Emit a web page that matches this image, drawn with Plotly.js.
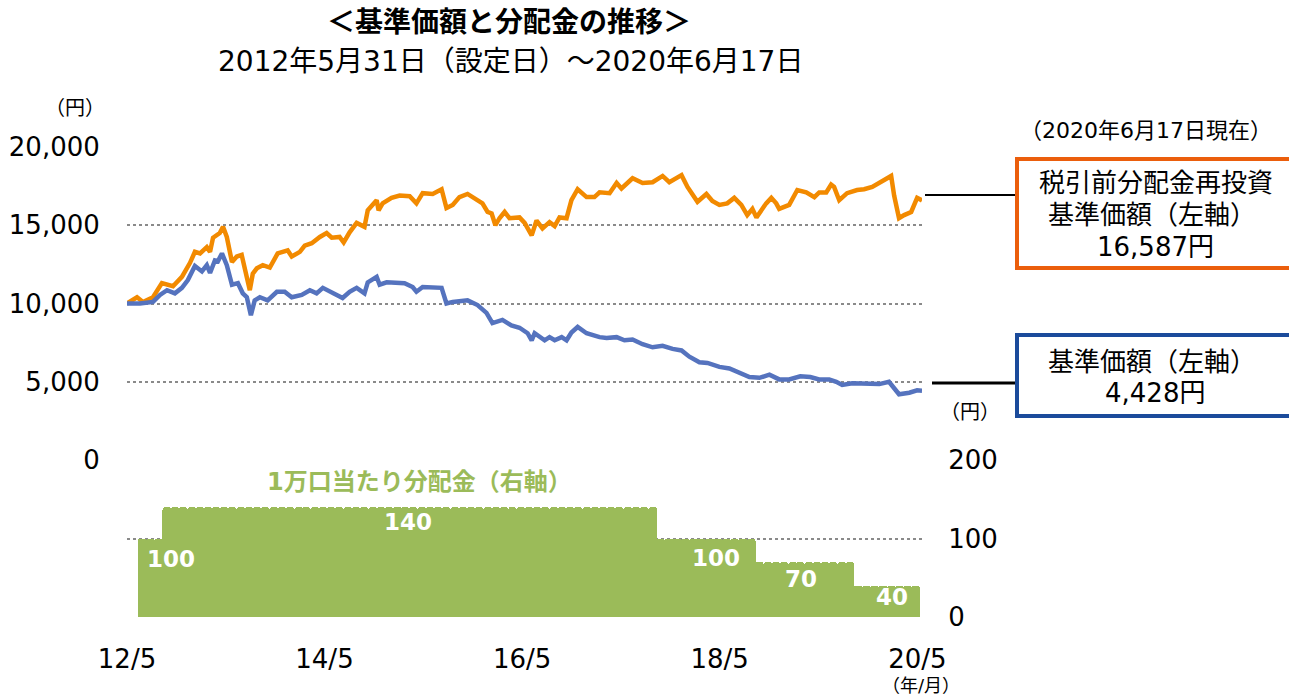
<!DOCTYPE html>
<html><head><meta charset="utf-8">
<script src="https://cdn.plot.ly/plotly-3.0.1.min.js"></script>
<style>html,body{margin:0;padding:0;background:#fff;}#chart{width:1289px;height:699px;}</style>
</head><body><div id="chart"></div>
<script>
// ---- data ----
const reinvDates = ["2012-05-31","2012-07-07","2012-07-29","2012-09-04","2012-10-07","2012-11-17","2012-12-20",
"2013-01-19","2013-02-06","2013-02-25","2013-03-22","2013-04-03","2013-04-14","2013-05-09","2013-05-21","2013-06-04",
"2013-06-23","2013-07-11","2013-07-29","2013-08-10","2013-08-28","2013-09-08","2013-09-23","2013-10-15","2013-11-10",
"2013-12-09","2014-01-15","2014-01-30","2014-03-01","2014-03-19","2014-04-14","2014-05-14","2014-06-08","2014-06-27",
"2014-07-26","2014-08-10","2014-09-01","2014-09-27","2014-10-26","2014-11-07","2014-12-10","2014-12-17","2015-01-01",
"2015-02-03","2015-03-05","2015-04-11","2015-05-06","2015-05-29","2015-07-05","2015-08-07","2015-08-25","2015-09-17",
"2015-10-12","2015-11-11","2015-12-18","2016-01-05","2016-01-24","2016-02-08","2016-02-22","2016-03-08","2016-03-27",
"2016-04-14","2016-05-21","2016-06-09","2016-07-05","2016-07-23","2016-08-14","2016-09-09","2016-09-28","2016-10-16",
"2016-11-11","2016-11-29","2016-12-22","2017-01-24","2017-02-22","2017-03-13","2017-04-19","2017-05-15","2017-06-02",
"2017-07-13","2017-08-19","2017-09-25","2017-11-01","2017-11-26","2018-01-10","2018-02-01","2018-03-10","2018-04-12",
"2018-05-04","2018-05-30","2018-06-28","2018-07-24","2018-08-19","2018-09-10","2018-09-29","2018-10-14","2018-11-19",
"2018-12-08","2018-12-26","2019-01-06","2019-02-12","2019-03-14","2019-04-16","2019-05-16","2019-06-03","2019-06-29",
"2019-07-17","2019-07-28","2019-08-16","2019-09-14","2019-10-21","2019-11-16","2019-12-16","2020-01-11","2020-02-05",
"2020-02-24","2020-03-06","2020-03-24","2020-04-12","2020-05-08","2020-05-30","2020-06-17"];
const reinvValues = [10000,10400,10100,10400,11300,11100,11700,
12600,13300,13200,13600,13300,14200,14500,14900,14250,
12650,13000,13100,12300,10850,11900,12250,12450,12300,
13200,13400,13000,13300,13700,13850,14250,14500,14200,
14250,13900,14550,15150,14900,15950,16600,15950,16400,
16750,16900,16850,16400,17050,17000,17300,16100,16300,
16800,17000,16600,16400,15850,15750,15000,15450,15850,
15450,15500,15150,14350,15300,14800,15200,14950,15500,
15450,16600,17300,16800,16800,17100,17050,17700,17350,
18000,17700,17750,18150,17750,18200,17450,16500,17000,
16550,16300,16400,16750,16300,15650,16050,15500,16400,
16750,16400,16050,16300,17250,17100,16800,17100,17100,
17600,17450,16600,17050,17250,17300,17450,17700,17900,
18150,16900,15450,15650,15850,16750,16587];

const navDates = ["2012-05-31","2012-07-18","2012-09-04","2012-09-30","2012-10-26","2012-11-24","2012-12-20",
"2013-01-11","2013-02-06","2013-03-04","2013-03-22","2013-04-03","2013-04-21","2013-05-02","2013-05-17","2013-06-04",
"2013-06-23","2013-07-15","2013-08-02","2013-08-17","2013-09-01","2013-09-15","2013-10-04","2013-11-02","2013-12-06",
"2014-01-04","2014-01-30","2014-03-08","2014-04-07","2014-05-02","2014-05-25","2014-06-30","2014-08-06","2014-09-01",
"2014-09-27","2014-10-26","2014-11-07","2014-12-10","2014-12-21","2015-01-16","2015-02-22","2015-03-23","2015-04-22",
"2015-05-06","2015-05-29","2015-07-05","2015-08-07","2015-08-25","2015-09-17","2015-11-11","2015-12-18","2016-01-20",
"2016-02-11","2016-03-19","2016-04-21","2016-05-21","2016-06-20","2016-07-05","2016-07-16","2016-08-22","2016-09-09",
"2016-09-28","2016-10-24","2016-11-11","2016-11-29","2016-12-22","2017-01-24","2017-03-13","2017-04-08","2017-05-15",
"2017-06-13","2017-07-13","2017-08-19","2017-09-25","2017-11-01","2017-12-08","2018-01-10","2018-02-08","2018-03-17",
"2018-04-16","2018-05-30","2018-07-06","2018-08-12","2018-09-18","2018-10-25","2018-12-01","2019-01-06","2019-02-12",
"2019-03-25","2019-05-01","2019-06-03","2019-07-10","2019-08-05","2019-08-27","2019-10-03","2019-11-24","2020-01-11",
"2020-02-16","2020-03-06","2020-03-24","2020-05-01","2020-05-30","2020-06-17"];
const navValues = [10000,10000,10100,10550,10850,10650,11000,
11500,12400,12050,12450,11950,12750,12700,13200,12450,
11200,11300,10650,10400,9250,10200,10400,10200,10750,
10750,10400,10550,10850,10650,11000,10650,10350,10750,
11000,10650,11350,11700,11200,11350,11350,11300,11050,
10750,11050,11000,11000,10000,10100,10200,9900,9400,
8750,8950,8600,8450,8100,7650,8100,7650,7850,
7650,7850,7650,8150,8500,8100,7850,7800,7850,
7650,7700,7400,7200,7300,7100,7000,6600,6250,
6200,5950,5850,5600,5300,5250,5450,5150,5150,
5350,5300,5150,5150,5000,4800,4900,4850,4850,
5000,4600,4200,4300,4450,4428];

const distMonths = [
"2012-07-25","2012-08-25","2012-09-25","2012-10-25","2012-11-25","2012-12-25",
"2013-01-25","2013-02-25","2013-03-25","2013-04-25","2013-05-25","2013-06-25","2013-07-25","2013-08-25","2013-09-25","2013-10-25","2013-11-25","2013-12-25",
"2014-01-25","2014-02-25","2014-03-25","2014-04-25","2014-05-25","2014-06-25","2014-07-25","2014-08-25","2014-09-25","2014-10-25","2014-11-25","2014-12-25",
"2015-01-25","2015-02-25","2015-03-25","2015-04-25","2015-05-25","2015-06-25","2015-07-25","2015-08-25","2015-09-25","2015-10-25","2015-11-25","2015-12-25",
"2016-01-25","2016-02-25","2016-03-25","2016-04-25","2016-05-25","2016-06-25","2016-07-25","2016-08-25","2016-09-25","2016-10-25","2016-11-25","2016-12-25",
"2017-01-25","2017-02-25","2017-03-25","2017-04-25","2017-05-25","2017-06-25","2017-07-25","2017-08-25","2017-09-25","2017-10-25","2017-11-25","2017-12-25",
"2018-01-25","2018-02-25","2018-03-25","2018-04-25","2018-05-25","2018-06-25","2018-07-25","2018-08-25","2018-09-25","2018-10-25","2018-11-25","2018-12-25",
"2019-01-25","2019-02-25","2019-03-25","2019-04-25","2019-05-25","2019-06-25","2019-07-25","2019-08-25","2019-09-25","2019-10-25","2019-11-25","2019-12-25",
"2020-01-25","2020-02-25","2020-03-25","2020-04-25","2020-05-25"];
const distValues = [
100,100,100,140,140,140,
140,140,140,140,140,140,140,140,140,140,140,140,
140,140,140,140,140,140,140,140,140,140,140,140,
140,140,140,140,140,140,140,140,140,140,140,140,
140,140,140,140,140,140,140,140,140,140,140,140,
140,140,140,140,140,140,140,140,140,100,100,100,
100,100,100,100,100,100,100,100,100,70,70,70,
70,70,70,70,70,70,70,70,70,40,40,40,
40,40,40,40,40];

const xTickVals = ["2012-05-31","2014-05-31","2016-05-31","2018-05-31","2020-05-31"];
const xTickText = ["12/5","14/5","16/5","18/5","20/5"];
const yLeftTicks = [0,5000,10000,15000,20000];
const yRightTicks = [0,100,200];
const distLabels = ["100","140","100","70","40"];

// ---- layout helpers (pixel -> paper) ----
const L=127, R=922, T=147, B=617;
const px = x => (x-L)/(R-L);
const py = y => (B-y)/(B-T);
const FONT = "'DejaVu Sans', 'Noto Sans CJK JP', sans-serif";
const fmt = v => v.toLocaleString('en-US');

function txt(text, x, y, size, opts) {
  opts = opts || {};
  return {text:text, xref:'paper', yref:'paper', x:px(x), y:py(y), xanchor:opts.xanchor||'center', yanchor:'middle',
    showarrow:false, font:{family:FONT, size:size, color:opts.color||'#000'}};
}

const traces = [
  {type:'bar', x:distMonths, y:distValues, xaxis:'x', yaxis:'y2', width:32*86400000,
   marker:{color:'#9BBB59', line:{width:0}, cornerradius:3}, hoverinfo:'skip'},
  {type:'scatter', mode:'lines', x:reinvDates, y:reinvValues, xaxis:'x', yaxis:'y',
   line:{color:'#F28A00', width:4.5}},
  {type:'scatter', mode:'lines', x:navDates, y:navValues, xaxis:'x', yaxis:'y',
   line:{color:'#5573BE', width:4.5}}
];

const barLabelPos = [[171,559],[408,522],[716,558],[801,579],[892,597]];
const annotations = [
  txt('2012年5月31日（設定日）～2020年6月17日', 510, 62, 28),
  txt('（円）', 75, 108, 20),
  txt('（2020年6月17日現在）', 1146, 131, 22),
  txt('税引前分配金再投資', 1156, 183, 26),
  txt('基準価額（左軸）', 1152, 215, 26),
  txt(fmt(reinvValues[reinvValues.length-1])+'円', 1155, 247, 26),
  txt('基準価額（左軸）', 1152, 362, 26),
  txt(fmt(navValues[navValues.length-1])+'円', 1155, 393, 26),
  txt('（円）', 970, 412, 20),
  txt('（年/月）', 921, 685, 18),
  txt('<b>1万口当たり分配金（右軸）</b>', 419, 482, 24, {color:'#9BBB59'})
];
distLabels.forEach((t,i)=>annotations.push(txt('<b>'+t+'</b>', barLabelPos[i][0], barLabelPos[i][1], 23, {color:'#FFFFFF'})));

const shapes = [
  {type:'rect', xref:'paper', yref:'paper', x0:px(1017), x1:px(1310), y0:py(268), y1:py(159), line:{color:'#EB5E0C', width:4}},
  {type:'rect', xref:'paper', yref:'paper', x0:px(1017), x1:px(1310), y0:py(416), y1:py(335), line:{color:'#1B4B9B', width:4}},
  {type:'line', xref:'paper', yref:'paper', x0:px(925), x1:px(1015), y0:py(195), y1:py(195), line:{color:'#000', width:2}},
  {type:'line', xref:'paper', yref:'paper', x0:px(932), x1:px(1015), y0:py(383), y1:py(383), line:{color:'#000', width:3}}
];

const layout = {
  width:1289, height:699, margin:{l:L, r:1289-R, t:T, b:699-B, pad:0},
  paper_bgcolor:'#fff', plot_bgcolor:'#fff', showlegend:false,
  font:{family:FONT, color:'#000'},
  title:{text:'<b>＜基準価額と分配金の推移＞</b>', font:{family:FONT, size:28, color:'#000'},
    x:509/1289, xanchor:'center', xref:'container', y:1-22/699, yanchor:'middle', yref:'container'},
  xaxis:{type:'date', range:['2012-05-31','2020-06-17'], tickvals:xTickVals, ticktext:xTickText,
    ticks:'outside', ticklen:19, tickcolor:'rgba(0,0,0,0)', showgrid:false, zeroline:false, showline:false,
    anchor:'y2', tickfont:{family:FONT, size:26, color:'#000'}},
  yaxis:{domain:[157/470,1], range:[0,20000], tickvals:yLeftTicks, tickformat:',d',
    showgrid:true, gridcolor:'#8a8a8a', griddash:'dot', gridwidth:2, zeroline:false, showline:false,
    ticks:'outside', ticklen:21, tickcolor:'rgba(0,0,0,0)', tickfont:{family:FONT, size:26, color:'#000'}},
  yaxis2:{domain:[0,157/470], range:[0,200], tickvals:yRightTicks, side:'right', anchor:'x',
    showgrid:true, gridcolor:'#8a8a8a', griddash:'dot', gridwidth:2, zeroline:false, showline:false,
    ticks:'outside', ticklen:20, tickcolor:'rgba(0,0,0,0)', tickfont:{family:FONT, size:26, color:'#000'}},
  bargap:0,
  annotations:annotations,
  shapes:shapes
};

Plotly.newPlot('chart', traces, layout, {displayModeBar:false, staticPlot:true});
</script>
</body></html>
